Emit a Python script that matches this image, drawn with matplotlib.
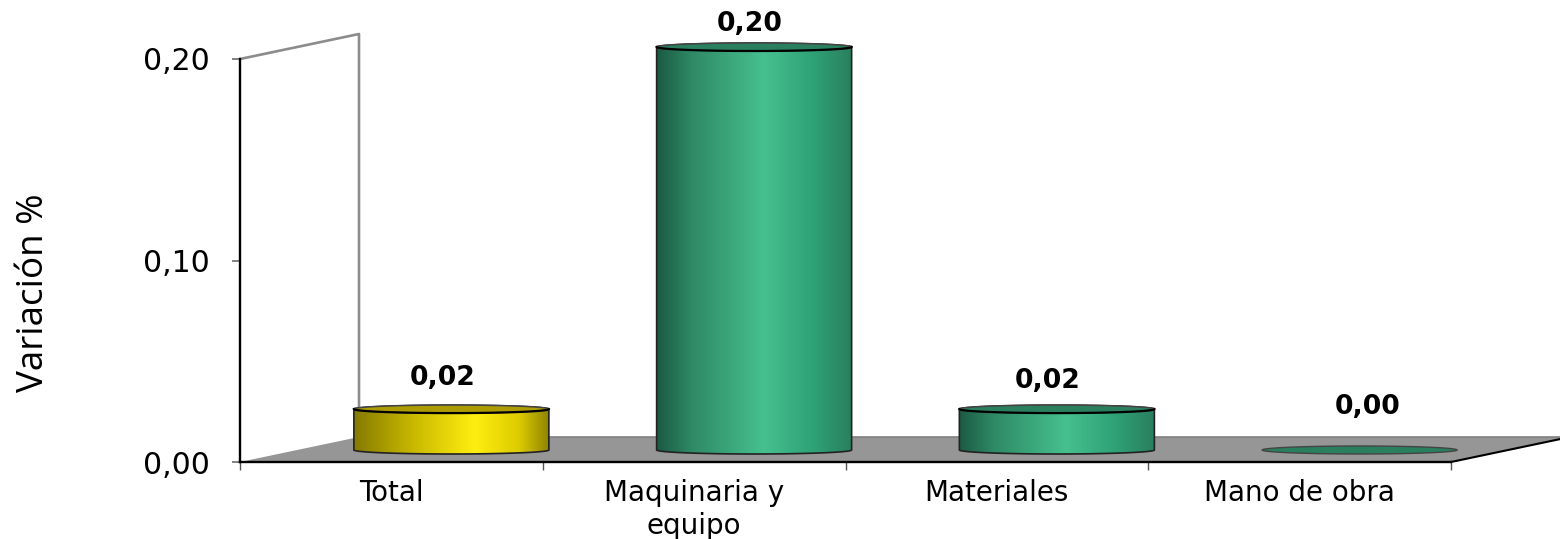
import matplotlib
matplotlib.use("Agg")
import matplotlib.pyplot as plt
import numpy as np
from matplotlib.colors import LinearSegmentedColormap
from matplotlib.patches import Polygon
from matplotlib.path import Path

CATEGORIES = ["Total", "Maquinaria y\nequipo", "Materiales", "Mano de obra"]
VALUES = [0.0203, 0.20, 0.0203, 0.0]
VALUE_LABELS = ["0,02", "0,20", "0,02", "0,00"]
Y_TICKS = [0.0, 0.10, 0.20]
Y_TICK_LABELS = ["0,00", "0,10", "0,20"]

W, H = 1560, 539
LEFT, RIGHT, BOTTOM, TOP = 240, 1451, 462, 59

# conversion px -> datos
PX_X = 4 / (RIGHT - LEFT)
PX_Y = 0.20 / (BOTTOM - TOP)

# pseudo 3D
DEPTH_X = 119 * PX_X
DEPTH_Y = 25 * PX_Y
BAR_DX = 60 * PX_X
BAR_DY = 12 * PX_Y
BAR_W = 195 * PX_X
ELL_H = 4 * PX_Y

LABEL_OFFSETS = [(-9, 31), (-4, 23), (-9, 28), (8, 43)]

YELLOW = LinearSegmentedColormap.from_list(
    "am", [(0, "#857a00"), (0.3, "#c8b800"), (0.62, "#ffee10"), (0.85, "#dccb00"), (1, "#8f8400")]
)
GREEN = LinearSegmentedColormap.from_list(
    "ve", [(0, "#1b5a43"), (0.18, "#2f8a66"), (0.55, "#46c08e"), (0.8, "#2fa277"), (1, "#2a7f5e")]
)
BAR_STYLES = [(YELLOW, "#ac9c00"), (GREEN, "#2a7f5e"), (GREEN, "#2a7f5e"), (GREEN, "#2a7f5e")]


def draw_cylinder(ax, fig, xc, value, cmap, top_color):
    base = BAR_DY
    top = base + value
    rx = BAR_W / 2
    t = np.linspace(0, np.pi, 60)
    cos_t, sin_t = np.cos(t), np.sin(t)

    if value > 0:
        xs = np.r_[xc + rx * cos_t, xc - rx * cos_t]
        ys = np.r_[top + ELL_H * sin_t, base - ELL_H * sin_t]
        body = Polygon(np.c_[xs, ys], closed=True, facecolor="none", edgecolor="#222222",
                       linewidth=1.2, zorder=5, clip_on=False)
        ax.add_patch(body)
        grad = np.linspace(0, 1, 256).reshape(1, -1)
        im = ax.imshow(grad, cmap=cmap, aspect="auto", zorder=4,
                       extent=(xc - rx, xc + rx, base - ELL_H, top + ELL_H))
        im.set_clip_path(Path(np.c_[xs, ys], closed=False), ax.transData)
        im.set_clip_box(fig.bbox)

    ell_x = np.r_[xc + rx * cos_t, xc - rx * cos_t]
    ell_y = np.r_[top + ELL_H * sin_t, top - ELL_H * sin_t]
    ax.add_patch(Polygon(np.c_[ell_x, ell_y], closed=True, facecolor=top_color,
                         edgecolor="#444444", linewidth=1.0, zorder=6, clip_on=False))
    if value > 0:
        ax.plot(xc - rx * cos_t, top - ELL_H * sin_t, color="black", linewidth=1.6,
                zorder=7, clip_on=False)


fig = plt.figure(figsize=(W / 100, H / 100), dpi=100)
ax = fig.add_axes([LEFT / W, 1 - BOTTOM / H, (RIGHT - LEFT) / W, (BOTTOM - TOP) / H])
ax.set_xlim(0, 4)
ax.set_ylim(0, 0.20)

# suelo y pared del fondo
floor = [(0, 0), (4, 0), (4 + DEPTH_X, DEPTH_Y), (DEPTH_X, DEPTH_Y)]
ax.add_patch(Polygon(floor, closed=True, facecolor="#969696", edgecolor="none", zorder=1, clip_on=False))
ax.plot([DEPTH_X, 4 + DEPTH_X], [DEPTH_Y, DEPTH_Y], color="#808080", linewidth=1.2, zorder=2, clip_on=False)
ax.plot([4, 4 + DEPTH_X], [0, DEPTH_Y], color="black", linewidth=1.5, zorder=2, clip_on=False)
ax.plot([0, DEPTH_X, DEPTH_X], [0.20, 0.20 + DEPTH_Y, DEPTH_Y], color="#8c8c8c", linewidth=1.9,
        zorder=2, clip_on=False)

for i, value in enumerate(VALUES):
    xc = i + 0.5 + BAR_DX
    cmap, top_color = BAR_STYLES[i]
    draw_cylinder(ax, fig, xc, value, cmap, top_color)
    off_x, off_y = LABEL_OFFSETS[i]
    ax.annotate(VALUE_LABELS[i], (xc, value + BAR_DY), xytext=(off_x * 0.72, off_y * 0.72),
                textcoords="offset points", ha="center", va="center", fontsize=19.3,
                fontweight="bold", family="DejaVu Sans", color="black", zorder=8, annotation_clip=False)

for side in ["top", "right"]:
    ax.spines[side].set_visible(False)
ax.spines["left"].set_linewidth(1.7)
ax.spines["bottom"].set_linewidth(1.7)
ax.spines["left"].set_zorder(3)
ax.spines["bottom"].set_zorder(3)
ax.patch.set_visible(False)

ax.set_yticks(Y_TICKS)
ax.set_yticklabels(Y_TICK_LABELS, fontsize=21.5, family="DejaVu Sans")
ax.tick_params(axis="y", length=6, width=1.4, color="#808080", pad=15.5)

ax.set_xticks(range(5))
ax.set_xticklabels([])
ax.set_xticks(np.arange(4) + 0.5, minor=True)
ax.set_xticklabels(CATEGORIES, minor=True, fontsize=20, family="DejaVu Sans", linespacing=1.25)
ax.tick_params(axis="x", which="major", length=6, width=1.0, color="#555555")
ax.tick_params(axis="x", which="minor", length=0, pad=12)

fig.text(34 / W, 1 - 293 / H, "Variación %", rotation=90, ha="center", va="center",
         fontsize=26.5, family="Open Sans", color="black")

fig.savefig("out.png", dpi=100)
plt.close(fig)
